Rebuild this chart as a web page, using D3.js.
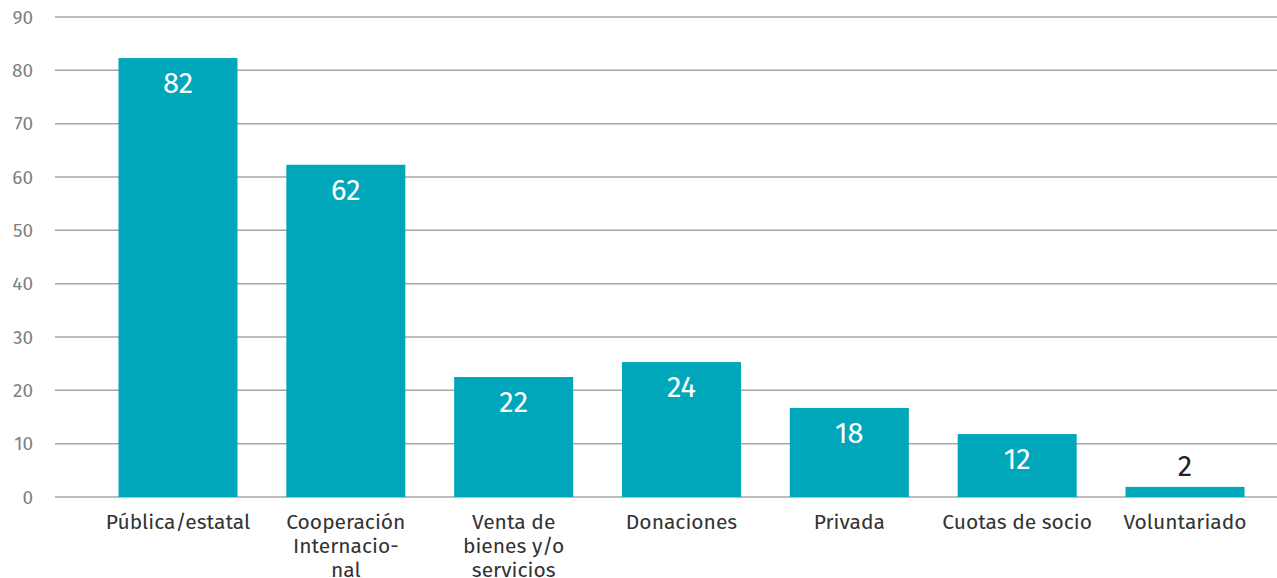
<!DOCTYPE html>
<html>
<head>
<meta charset="utf-8">
<script src="https://cdn.jsdelivr.net/npm/d3@7"></script>
<style>
  html, body { margin: 0; padding: 0; background: #fff; overflow: hidden; }
  svg { display: block; font-family: "Fira Sans", "Noto Sans", "Open Sans", sans-serif; }
</style>
</head>
<body>
<div id="chart"></div>
<script>
// categories (wrapped as in the original)
const categories = [
    ["Pública/estatal"],
    ["Cooperación", "Internacio-", "nal"],
    ["Venta de", "bienes y/o", "servicios"],
    ["Donaciones"],
    ["Privada"],
    ["Cuotas de socio"],
    ["Voluntariado"]
];
// bar heights as drawn, and the value labels printed on them
const values = [82.3, 62.3, 22.5, 25.3, 16.7, 11.8, 1.9];
const valueLabels = ["82", "62", "22", "24", "18", "12", "2"];
const yTicks = [0, 10, 20, 30, 40, 50, 60, 70, 80, 90];

const width = 1277, height = 578;
const barColor = "#00a7ba";

const svg = d3.select("#chart").append("svg")
    .attr("width", width)
    .attr("height", height);

const y = d3.scaleLinear().domain([0, 90]).range([497, 17]);
const x = d3.scalePoint()
    .domain(d3.range(categories.length))
    .range([178, 1185]);
const barW = 119;

// gridlines
svg.append("g")
    .selectAll("line")
    .data(yTicks)
    .join("line")
    .attr("x1", 55)
    .attr("x2", width)
    .attr("y1", d => y(d))
    .attr("y2", d => y(d))
    .attr("stroke", "#a6a6a6")
    .attr("stroke-width", 1.5);

// y tick labels
svg.append("g")
    .selectAll("text")
    .data(yTicks)
    .join("text")
    .attr("x", 33)
    .attr("y", d => y(d))
    .attr("dy", "0.35em")
    .attr("text-anchor", "end")
    .attr("font-size", "19px")
    .attr("fill", "#7f7f7f")
    .text(d => d);

// bars
svg.append("g")
    .selectAll("rect")
    .data(values)
    .join("rect")
    .attr("x", (d, i) => x(i) - barW / 2)
    .attr("y", d => y(d))
    .attr("width", barW)
    .attr("height", d => y(0) - y(d))
    .attr("fill", barColor);

// value labels: inside the bar, or above it when the bar is too short
svg.append("g")
    .selectAll("text")
    .data(values)
    .join("text")
    .attr("x", (d, i) => x(i))
    .attr("y", d => (y(0) - y(d) > 40 ? y(d) + 35 : y(d) - 11))
    .attr("text-anchor", "middle")
    .attr("font-size", "29px")
    .attr("fill", d => (y(0) - y(d) > 40 ? "#fff" : "#222"))
    .text((d, i) => valueLabels[i]);

// category labels
const cat = svg.append("g")
    .selectAll("text")
    .data(categories)
    .join("text")
    .attr("x", (d, i) => x(i))
    .attr("y", 529)
    .attr("text-anchor", "middle")
    .attr("font-size", "21px")
    .attr("fill", "#333");

cat.selectAll("tspan")
    .data(d => d)
    .join("tspan")
    .attr("x", function () { return this.parentNode.getAttribute("x"); })
    .attr("dy", (d, j) => (j === 0 ? 0 : 24))
    .text(d => d);
</script>
</body>
</html>
